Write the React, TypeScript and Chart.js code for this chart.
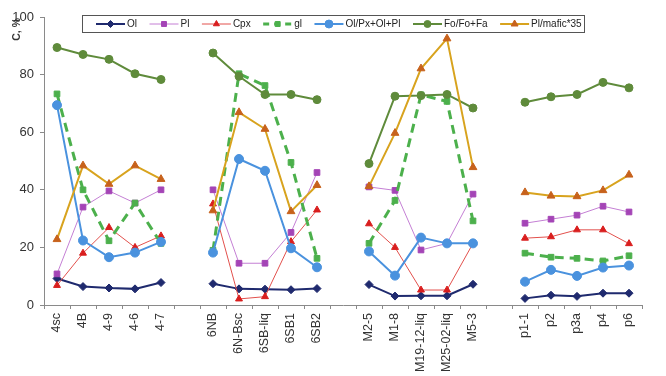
import React, { useEffect, useRef } from "react";
import { Chart, registerables } from "chart.js";
import { drawPoint } from "chart.js/helpers";

Chart.register(...registerables);

const categories = ["4sc", "4B", "4-9", "4-6", "4-7", "", "6NB", "6N-Bsc", "6SB-liq", "6SB1", "6SB2", "", "M2-5", "M1-8", "M19-12-liq", "M25-02-liq", "M5-3", "", "p1-1", "p2", "p3a", "p4", "p6"];

const ol = [9.2, 6.4, 5.9, 5.6, 7.8, null, 7.4, 5.6, 5.5, 5.3, 5.7, null, 7.1, 3.1, 3.2, 3.2, 7.2, null, 2.3, 3.4, 3.0, 4.1, 4.1];
const pl = [10.8, 34, 39.6, 35.4, 40, null, 40, 14.5, 14.5, 25.2, 46, null, 41, 39.8, 19.1, 21.4, 38.5, null, 28.4, 29.8, 31.2, 34.3, 32.3];
const cpx = [6.8, 18, 26.9, 20, 24, null, 35.1, 2.1, 2.9, 22, 33, null, 28.2, 20, 5.2, 5.2, 21.4, null, 23.2, 23.7, 26.1, 26.1, 21.3];
const gl = [73.3, 40, 22.3, 35.4, 21.4, null, 19, 80.3, 76.2, 49.5, 16.2, null, 21.4, 36.3, 73, 70.7, 29.2, null, 18, 16.6, 16.2, 15.3, 17.1];
const olPx = [69.4, 22.4, 16.6, 18.2, 21.9, null, 18.2, 50.7, 46.6, 19.7, 13.1, null, 18.6, 10.2, 23.4, 21.4, 21.4, null, 8.1, 12.2, 10.1, 13, 13.7];
const foFa = [89.4, 87, 85.3, 80.3, 78.3, null, 87.5, 79.4, 73.1, 73.1, 71.3, null, 49.1, 72.5, 72.7, 73.1, 68.4, null, 70.4, 72.3, 73.1, 77.3, 75.4];
const plMafic = [22.8, 48.4, 42, 48.4, 43.7, null, 32.8, 66.9, 61.1, 32.5, 41.6, null, 41.2, 59.7, 82.1, 92.5, 47.8, null, 39.1, 37.9, 37.7, 39.8, 45.2];

const yTicks = [0, 20, 40, 60, 80, 100];
const yTitle = "C, %";

const FONT = "'Liberation Sans', Arial, Helvetica, sans-serif";

type S = {
  label: string;
  data: (number | null)[];
  line: string;
  marker: string;
  width: number;
  style: string;
  radius: number;
  dash?: number[];
};

const seriesDefs: S[] = [
  { label: "Ol", data: ol, line: "#1f2a6e", marker: "#1f2a6e", width: 2, style: "rectRot", radius: 4 },
  { label: "Pl", data: pl, line: "#c47fd4", marker: "#a444b6", width: 1, style: "rect", radius: 4 },
  { label: "Cpx", data: cpx, line: "#e2504c", marker: "#d91e1e", width: 1, style: "triangle", radius: 4 },
  { label: "gl", data: gl, line: "#4cb04c", marker: "#4cb04c", width: 3, style: "rect", radius: 4, dash: [9, 6] },
  { label: "Ol/Px+Ol+Pl", data: olPx, line: "#4a92de", marker: "#4a92de", width: 2, style: "circle", radius: 4.5 },
  { label: "Fo/Fo+Fa", data: foFa, line: "#5f8b3b", marker: "#5f8b3b", width: 2, style: "circle", radius: 4 },
  { label: "Pl/mafic*35", data: plMafic, line: "#d8a31e", marker: "#c7621c", width: 2, style: "triangle", radius: 4.5 },
];

const legendPlugin = {
  id: "boxLegend",
  afterDraw(chart: any) {
    const ctx = chart.ctx as CanvasRenderingContext2D;
    ctx.save();
    // y-axis title, top-aligned at the axis top
    ctx.save();
    ctx.translate(17, chart.chartArea.top + 1);
    ctx.rotate(-Math.PI / 2);
    ctx.font = `bold 10.5px ${FONT}`;
    ctx.fillStyle = "#333333";
    ctx.textAlign = "right";
    ctx.textBaseline = "middle";
    ctx.fillText(yTitle, 0, 0);
    ctx.restore();

    const bx = 82.5, by = 15.5, bw = 502, bh = 17;
    ctx.fillStyle = "#ffffff";
    ctx.fillRect(bx, by, bw, bh);
    ctx.strokeStyle = "#555555";
    ctx.lineWidth = 1;
    ctx.strokeRect(bx, by, bw, bh);
    ctx.font = `10px ${FONT}`;
    ctx.textBaseline = "middle";
    ctx.textAlign = "left";
    const cy = 24;
    let x = 96;
    for (const s of seriesDefs) {
      ctx.save();
      ctx.strokeStyle = s.line;
      ctx.lineWidth = s.width;
      ctx.setLineDash(s.dash ? [6, 5] : []);
      ctx.beginPath();
      ctx.moveTo(x, cy);
      ctx.lineTo(x + 29, cy);
      ctx.stroke();
      ctx.restore();
      ctx.save();
      ctx.fillStyle = s.marker;
      ctx.strokeStyle = s.marker;
      ctx.lineWidth = 1;
      drawPoint(ctx, { pointStyle: s.style as any, radius: s.radius - 0.5, rotation: 0, borderWidth: 1 } as any, x + 14.5, cy);
      ctx.restore();
      ctx.fillStyle = "#222222";
      ctx.fillText(s.label, x + 31, cy + 0.5);
      x += 31 + ctx.measureText(s.label).width + 12.5;
    }
    ctx.restore();
  },
};

export default function App() {
  const ref = useRef<HTMLCanvasElement | null>(null);
  useEffect(() => {
    document.body.style.margin = "0";
    const canvas = ref.current!;
    const chart = new Chart(canvas, {
      type: "line",
      data: {
        labels: categories,
        datasets: seriesDefs.map((s, i) => ({
          label: s.label,
          data: s.data,
          borderColor: s.line,
          backgroundColor: s.marker,
          pointBackgroundColor: s.marker,
          pointBorderColor: s.marker,
          pointStyle: s.style as any,
          pointRadius: s.radius,
          pointBorderWidth: 1,
          borderWidth: s.width,
          borderDash: s.dash || [],
          spanGaps: false,
          tension: 0,
          fill: false,
          order: seriesDefs.length - i,
        })),
      },
      options: {
        responsive: false,
        animation: false,
        layout: { padding: { top: 17, right: 24, bottom: 0, left: 0 } },
        plugins: {
          legend: { display: false },
          tooltip: { enabled: false },
        },
        scales: {
          x: {
            type: "category",
            offset: true,
            border: { display: true, color: "#8a8a8a", width: 1 },
            grid: {
              display: true,
              offset: true,
              drawOnChartArea: false,
              drawTicks: true,
              tickLength: 4,
              color: "#8a8a8a",
            },
            ticks: {
              autoSkip: false,
              maxRotation: 90,
              minRotation: 90,
              padding: 4,
              color: "#333333",
              font: { family: FONT, size: 12.5 },
            },
            afterFit(scale: any) {
              scale.height = 71;
            },
          },
          y: {
            min: 0,
            max: 100,
            afterBuildTicks(scale: any) {
              scale.ticks = yTicks.map((v) => ({ value: v }));
            },
            border: { display: true, color: "#8a8a8a", width: 1 },
            grid: {
              display: true,
              drawOnChartArea: false,
              drawTicks: true,
              tickLength: 4,
              color: "#8a8a8a",
            },
            ticks: {
              padding: 6,
              color: "#333333",
              font: { family: FONT, size: 13 },
            },
            title: { display: false },
            afterFit(scale: any) {
              scale.width = 44;
            },
          },
        },
      },
      plugins: [legendPlugin],
    });
    return () => chart.destroy();
  }, []);
  return (
    <canvas
      ref={ref}
      width={666}
      height={376}
      style={{ position: "fixed", left: 0, top: 0, width: 666, height: 376, background: "#ffffff" }}
    />
  );
}
